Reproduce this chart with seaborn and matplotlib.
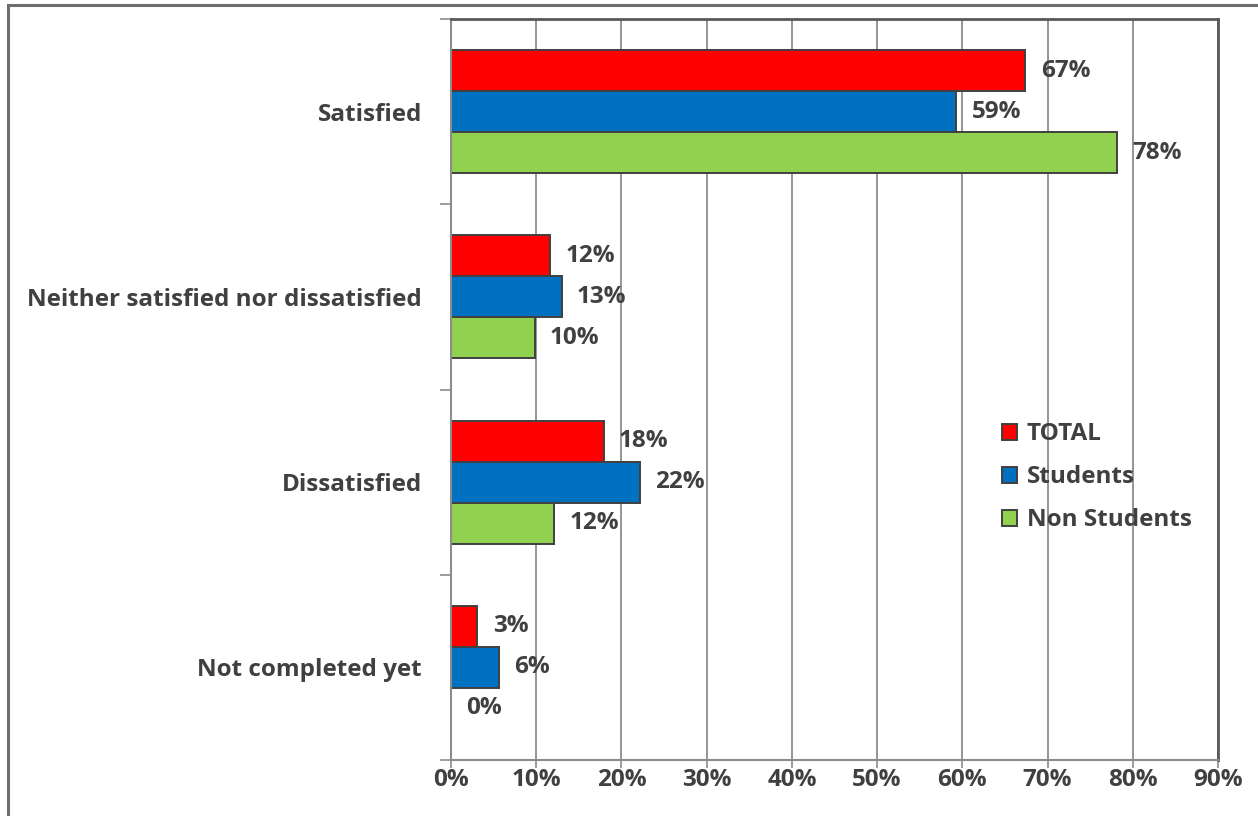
import matplotlib
matplotlib.use("Agg")
import matplotlib.pyplot as plt
from matplotlib.patches import Patch, Rectangle
from matplotlib.ticker import FixedLocator
import pandas as pd
import seaborn as sns

# Survey answers (percent of respondents)
categories = ["Satisfied", "Neither satisfied nor dissatisfied", "Dissatisfied", "Not completed yet"]
groups = ["TOTAL", "Students", "Non Students"]
total = [67.4, 11.6, 17.9, 3.1]
students = [59.3, 13.0, 22.2, 5.6]
non_students = [78.2, 9.8, 12.1, 0.0]
x_ticks = [0, 10, 20, 30, 40, 50, 60, 70, 80, 90]
colors = ["#FF0000", "#0070C0", "#92D050"]

series = {"TOTAL": total, "Students": students, "Non Students": non_students}
df = pd.DataFrame(
    [(cat, grp, series[grp][i]) for i, cat in enumerate(categories) for grp in groups],
    columns=["answer", "group", "pct"],
)

sns.set_theme(style="white")
plt.rcParams["font.family"] = ["Open Sans", "DejaVu Sans"]
plt.rcParams["font.weight"] = "bold"
text_color = "#404040"
fs = 17.5

fig = plt.figure(figsize=(12.58, 8.16), dpi=100)
ax = fig.add_axes([451 / 1258, 1 - 760 / 816, (1218 - 451) / 1258, (760 - 19) / 816])

sns.barplot(
    data=df, y="answer", x="pct", hue="group", order=categories, hue_order=groups,
    palette=colors, orient="h", width=0.665, edgecolor="#404040", linewidth=1.4,
    legend=False, ax=ax, errorbar=None, saturation=1,
)

ax.set_xlim(0, 90)
ax.set_ylim(3.5, -0.5)
ax.set_xlabel("")
ax.set_ylabel("")

# Vertical gridlines behind bars
ax.set_axisbelow(True)
ax.set_xticks(x_ticks)
ax.grid(axis="x", color="#8C8C8C", linewidth=1.3)
ax.grid(axis="y", visible=False)
ax.set_xticklabels([f"{t}%" for t in x_ticks], fontsize=fs, fontweight="bold", color=text_color)

# Category labels at group centres, tick marks between groups
ax.set_yticks(range(len(categories)))
ax.set_yticklabels(categories, fontsize=fs, fontweight="bold", color=text_color)
ax.yaxis.set_minor_locator(FixedLocator([-0.5, 0.5, 1.5, 2.5, 3.5]))
ax.tick_params(axis="y", which="major", length=0, pad=21)
ax.tick_params(axis="y", which="minor", left=True, length=8, width=1.2, color="#8C8C8C")
ax.tick_params(axis="x", which="major", bottom=True, length=6, width=1.2, color="#8C8C8C", pad=0)

for side in ("left", "bottom"):
    ax.spines[side].set_color("#8C8C8C")
    ax.spines[side].set_linewidth(1.5)
for side in ("top", "right"):
    ax.spines[side].set_color("#595959")
    ax.spines[side].set_linewidth(2)

# Value labels next to each bar
for cont, grp in zip(ax.containers, groups):
    ax.bar_label(cont, labels=[f"{v:.0f}%" for v in series[grp]], padding=11,
                 fontsize=fs, fontweight="bold", color=text_color)

handles = [Patch(facecolor=c, edgecolor="#404040", linewidth=1.4, label=g) for c, g in zip(colors, groups)]
leg = ax.legend(handles=handles, loc="upper left", bbox_to_anchor=(0.69, 0.485), frameon=False,
                handlelength=0.62, handleheight=0.62, handletextpad=0.4, labelspacing=0.78,
                prop={"size": fs, "weight": "bold"})
for t in leg.get_texts():
    t.set_color(text_color)

# Chart border
fig.patches.append(Rectangle((8 / 1258, -0.02), 1.05, 1 - 5 / 816 + 0.02, transform=fig.transFigure,
                             fill=False, edgecolor="#6E6E6E", linewidth=2.2, clip_on=False))

fig.savefig("out.png", dpi=100)
